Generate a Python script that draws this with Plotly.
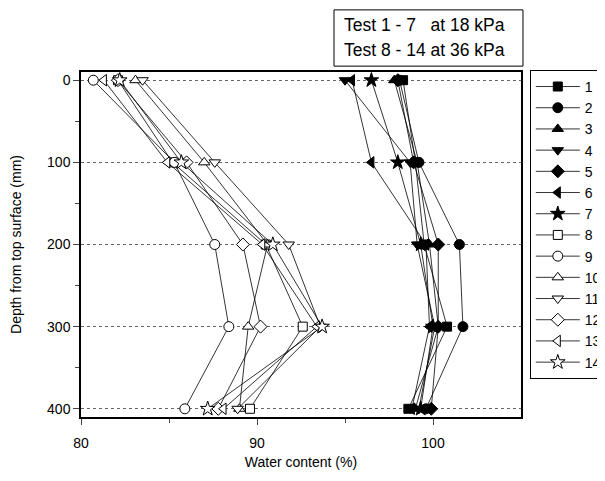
import plotly.graph_objects as go

depths = [0, 100, 200, 300, 400]

# Water content (%) per test, at depths 0..400 mm
t1 = [98.3, 99.0, 99.5, 100.8, 98.6]
t2 = [98.1, 99.2, 101.5, 101.7, 99.6]
t3 = [97.8, 99.1, 99.8, 100.3, 99.0]
t4 = [95.0, 98.7, 99.1, 100.1, 99.2]
t5 = [98.0, 98.9, 100.3, 100.3, 99.9]
t6 = [95.4, 96.5, 99.6, 99.8, 98.8]
t7 = [96.5, 98.0, 99.3, 100.0, 99.3]
t8 = [82.1, 85.2, 90.5, 92.6, 89.6]
t9 = [80.7, 85.3, 87.6, 88.4, 85.9]
t10 = [83.1, 87.0, 90.6, 89.5, 89.0]
t11 = [83.5, 87.6, 91.8, 93.6, 88.9]
t12 = [82.1, 86.0, 89.2, 90.2, 87.8]
t13 = [81.3, 84.9, 90.3, 93.4, 88.1]
t14 = [82.2, 85.7, 90.9, 93.7, 87.2]

series = [t1, t2, t3, t4, t5, t6, t7, t8, t9, t10, t11, t12, t13, t14]
names = [str(i) for i in range(1, 15)]
symbols = ["square", "circle", "triangle-up", "triangle-down", "diamond",
           "triangle-left", "star"] * 2
sizes = [9, 10, 10, 10, 10, 10, 11] * 2

box_lines = ["Test 1 - 7\u00a0\u00a0\u00a0at 18 kPa", "Test 8 - 14 at 36 kPa"]

fig = go.Figure()
for i, (vals, nm, sym, sz) in enumerate(zip(series, names, symbols, sizes)):
    filled = i < 7
    fig.add_trace(go.Scatter(
        x=vals, y=depths, mode="lines+markers", name=nm,
        line=dict(color="black", width=0.8),
        marker=dict(symbol=sym, size=sz,
                    color="black" if filled else "white",
                    line=dict(color="black", width=1)),
    ))

# The page body has an 8 px margin, so the figure is 8 px smaller each way
fig.update_layout(
    width=597, height=473,
    margin=dict(l=73, r=84, t=64, b=64, autoexpand=False),
    paper_bgcolor="white", plot_bgcolor="white",
    font=dict(family="Liberation Sans, Arial, sans-serif", size=14, color="black"),
    showlegend=True,
    legend=dict(x=1.02, y=1.006, xanchor="left", yanchor="top",
                bordercolor="black", borderwidth=1, bgcolor="white",
                font=dict(size=14), tracegroupgap=0, itemwidth=44,
                maxheight=400),
    xaxis=dict(range=[80, 105], tickvals=[80, 90, 100], ticks="outside",
               ticklen=6, tickwidth=1, showgrid=False, zeroline=False,
               showline=True, linecolor="black", linewidth=1.5, mirror=True,
               automargin=False, ticklabelstandoff=6,
               minor=dict(tickvals=[85, 95], ticks="outside", ticklen=4),
               title=dict(text="Water content (%)", font=dict(size=14), standoff=8)),
    yaxis=dict(range=[410, -10], tickvals=[0, 100, 200, 300, 400], ticks="outside",
               ticklen=6, tickwidth=1, showgrid=True, gridcolor="#666666",
               griddash="3px,3px", gridwidth=1, zeroline=False,
               showline=True, linecolor="black", linewidth=1.5, mirror=True,
               automargin=False,
               minor=dict(tickvals=[50, 150, 250, 350], ticks="outside", ticklen=4),
               title=dict(text="Depth from top surface (mm)", font=dict(size=14), standoff=24)),
)

# Text box at top
fig.add_shape(type="rect", xref="paper", yref="paper",
              x0=0.575, x1=1.0045, y0=1.017, y1=1.18,
              line=dict(color="black", width=1), fillcolor="white")
for txt, yy in zip(box_lines, [1.136, 1.064]):
    fig.add_annotation(xref="paper", yref="paper", x=0.593, y=yy, xanchor="left",
                       yanchor="middle", showarrow=False,
                       text=txt, font=dict(size=17.5))

fig.write_html("out.html")
